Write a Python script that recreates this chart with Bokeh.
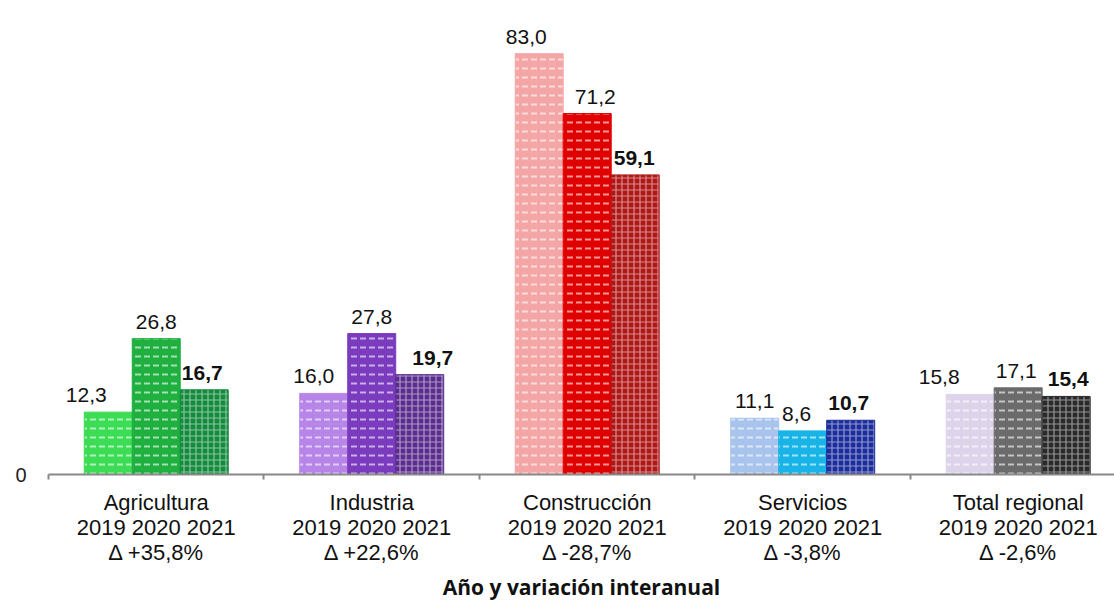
from bokeh.plotting import figure
from bokeh.models import ColumnDataSource, FixedTicker, Range1d
from bokeh.core.properties import value
from bokeh.embed import file_html
from bokeh.resources import INLINE

categories = ["Agricultura", "Industria", "Construcción", "Servicios", "Total regional"]
years = ["2019", "2020", "2021"]
v2019 = [12.3, 16.0, 83.0, 11.1, 15.8]
v2020 = [26.8, 27.8, 71.2, 8.6, 17.1]
v2021 = [16.7, 19.7, 59.1, 10.7, 15.4]
variation = ["+35,8%", "+22,6%", "-28,7%", "-3,8%", "-2,6%"]

colors2019 = ["#3ddc55", "#b784e8", "#f4a6a6", "#a8c4ec", "#ddd4ec"]
colors2020 = ["#1fb040", "#7a3bbf", "#e00000", "#18b4e8", "#6b6b6b"]
colors2021 = ["#138a3c", "#5b2d8e", "#b01818", "#1c2d9c", "#2a2a2a"]

# label nudges (pixels) to mimic the manual placement in the original
dx2019 = [-22, -10, -13, 0, -31]
dx2020 = [0, 0, 8, -6, -2]
dx2021 = [-2, 13, -1, -2, 2]

BW = 0.2227
idx = list(range(len(categories)))

p = figure(width=1114, height=603, output_backend="svg", toolbar_location=None,
           x_range=Range1d(-0.5, 4.447), y_range=Range1d(0, 93.5),
           min_border_left=48, min_border_right=0, min_border_top=0,
           min_border_bottom=129)
p.outline_line_color = None
p.grid.visible = False
p.background_fill_color = "white"
p.border_fill_color = "white"

series = [
    (v2019, colors2019, -BW, "horizontal_dash", dx2019, "normal"),
    (v2020, colors2020, 0.0, "horizontal_dash", dx2020, "normal"),
    (v2021, colors2021, BW, "cross", dx2021, "bold"),
]

for vals, cols, off, hatch, dxs, style in series:
    src = ColumnDataSource(dict(
        x=[i + off for i in idx],
        top=vals,
        color=cols,
        label=[f"{v:.1f}".replace(".", ",") for v in vals],
        dx=dxs,
    ))
    is_dash = hatch == "horizontal_dash"
    p.vbar(x="x", top="top", width=BW, bottom=0, source=src,
           fill_color="color", line_color="color", line_width=1,
           hatch_pattern=hatch, hatch_color="white",
           hatch_alpha=0.6 if is_dash else 0.5,
           hatch_scale=9 if is_dash else 6,
           hatch_weight=2 if is_dash else 1.2)
    p.text(x="x", y="top", text="label", source=src, x_offset="dx", y_offset=-17,
           text_align="center", text_baseline="alphabetic",
           text_font=value("Liberation Sans"), text_font_size="21px",
           text_font_style=style, text_color="#111111")

# x axis
xa = p.xaxis[0]
xa.ticker = FixedTicker(ticks=idx, minor_ticks=[i - 0.5 for i in idx] + [4.5])
xa.major_label_overrides = {
    i: f"{c}\n2019 2020 2021\nΔ {v}" for i, (c, v) in enumerate(zip(categories, variation))
}
xa.major_tick_line_color = None
xa.major_tick_out = 0
xa.major_tick_in = 0
xa.minor_tick_out = 5
xa.minor_tick_in = 0
xa.minor_tick_line_color = "#888888"
xa.minor_tick_line_width = 2
xa.axis_line_color = "#888888"
xa.axis_line_width = 2
xa.major_label_text_font = "Liberation Sans"
xa.major_label_text_font_size = "22px"
xa.major_label_text_line_height = 1.0
xa.major_label_text_color = "#111111"
xa.major_label_standoff = 10
xa.axis_label = "Año y variación interanual"
xa.axis_label_text_font = "Open Sans"
xa.axis_label_text_font_style = "bold"
xa.axis_label_text_font_size = "21px"
xa.axis_label_text_color = "#111111"
xa.axis_label_standoff = 5

# y axis: only the 0 label
ya = p.yaxis[0]
ya.ticker = FixedTicker(ticks=[0])
ya.axis_line_color = None
ya.major_tick_line_color = None
ya.minor_tick_line_color = None
ya.major_label_text_font = "Liberation Sans"
ya.major_label_text_font_size = "20px"
ya.major_label_text_color = "#222222"
ya.major_label_standoff = 16

open("out.html", "w").write(file_html(p, INLINE))
